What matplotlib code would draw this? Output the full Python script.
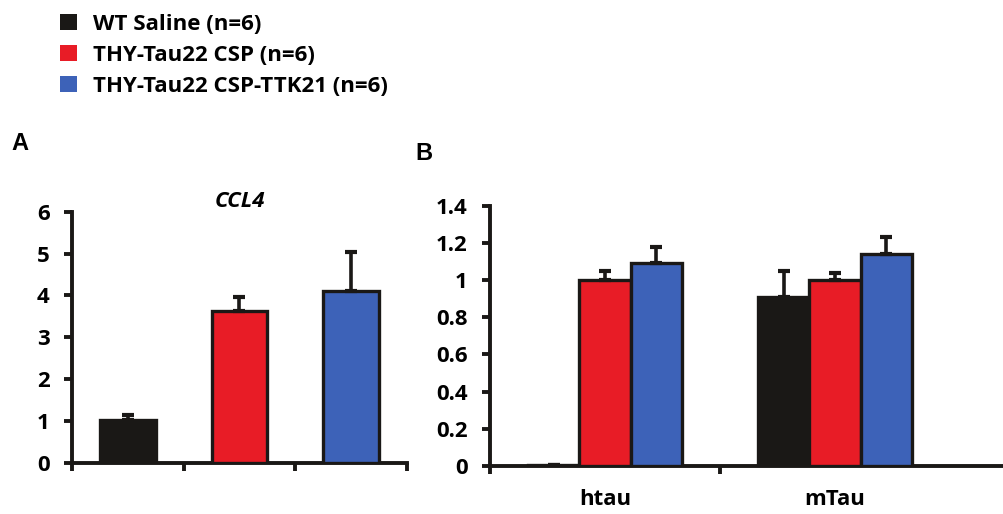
import matplotlib
matplotlib.use("Agg")
import matplotlib.pyplot as plt
from matplotlib.patches import Patch

plt.rcParams['font.family'] = ['Open Sans', 'DejaVu Sans']
plt.rcParams['font.weight'] = 'bold'

groups = ['WT Saline (n=6)', 'THY-Tau22 CSP (n=6)', 'THY-Tau22 CSP-TTK21 (n=6)']
colors = ['#1a1816', '#e81c26', '#3d62b8']

# panel A, CCL4
ccl4_mean = [1.02, 3.62, 4.1]
ccl4_err = [0.12, 0.34, 0.94]

# panel B
genes = ['htau', 'mTau']
tau_mean = {
    'WT': [0.005, 0.91],
    'CSP': [1.0, 1.0],
    'TTK': [1.09, 1.14],
}
tau_err = {
    'WT': [0.0, 0.14],
    'CSP': [0.05, 0.04],
    'TTK': [0.09, 0.09],
}

fig = plt.figure(figsize=(10.04, 5.14), dpi=100)
lw = 2.8
ink = '#1a1816'
ekw = dict(ecolor=ink, elinewidth=2.6, capsize=4, capthick=3)

def style(ax):
    for s in ['top', 'right']:
        ax.spines[s].set_visible(False)
    for s in ['left', 'bottom']:
        ax.spines[s].set_linewidth(lw)
        ax.spines[s].set_color(ink)
    ax.tick_params(axis='both', width=lw, length=6, color=ink, labelsize=16)
    ax.tick_params(axis='y', pad=10)
    for t in ax.get_yticklabels():
        t.set_fontweight('bold')

# ---- A
axA = fig.add_axes([72/1004, 1-463/514, (407-72)/1004, (463-211.7)/514])
xa = [0.5, 1.5, 2.5]
axA.bar(xa, ccl4_mean, width=0.5, color=colors, edgecolor=ink, linewidth=2.4,
        yerr=[[0, 0, 0], ccl4_err], error_kw=ekw, zorder=3)
axA.set_xlim(0, 3)
axA.set_ylim(0, 6)
axA.set_xticks([0, 1, 2, 3])
axA.set_xticklabels([])
axA.set_yticks(range(7))
style(axA)
axA.set_title('CCL4', fontsize=16, fontstyle='italic', fontweight='bold', pad=2)

# ---- B
w = 0.222
axB = fig.add_axes([490/1004, 1-466/514, (1004-490)/1004, (466-205.7)/514])
xb = [0.5, 1.5]
for i, k in enumerate(['WT', 'CSP', 'TTK']):
    pos = [x + (i - 1) * w for x in xb]
    err = [[0, 0], tau_err[k]] if k != 'WT' else [[0, 0], [0, tau_err[k][1]]]
    axB.bar(pos, tau_mean[k], width=w, color=colors[i], edgecolor=ink, linewidth=2.4,
            yerr=err, error_kw=ekw, zorder=3)
axB.set_xlim(0, 514/230)
axB.set_ylim(0, 1.4)
axB.set_yticks([0, 0.2, 0.4, 0.6, 0.8, 1.0, 1.2, 1.4])
axB.set_yticklabels(['0', '0.2', '0.4', '0.6', '0.8', '1', '1.2', '1.4'])
axB.set_xticks([0, 1])
axB.set_xticklabels([])
style(axB)
for x, g in zip(xb, genes):
    axB.text(x, -0.125, g, ha='center', va='top', fontsize=16, fontweight='bold',
             transform=axB.transData)

# panel letters
fig.text(11/1004, 1-150/514, 'A', fontsize=17, fontweight='bold', family='Liberation Sans')
fig.text(415/1004, 1-160/514, 'B', fontsize=17, fontweight='bold', family='Liberation Sans')

# legend
handles = [Patch(facecolor=c, edgecolor='none') for c in colors]
fig.legend(handles, groups, loc='upper left', bbox_to_anchor=(40/1004, 1.012), frameon=False,
           prop=dict(size=16, weight='bold'), handlelength=0.75, handleheight=0.75,
           handletextpad=0.75, labelspacing=0.45)

fig.savefig('out.png', dpi=100)
